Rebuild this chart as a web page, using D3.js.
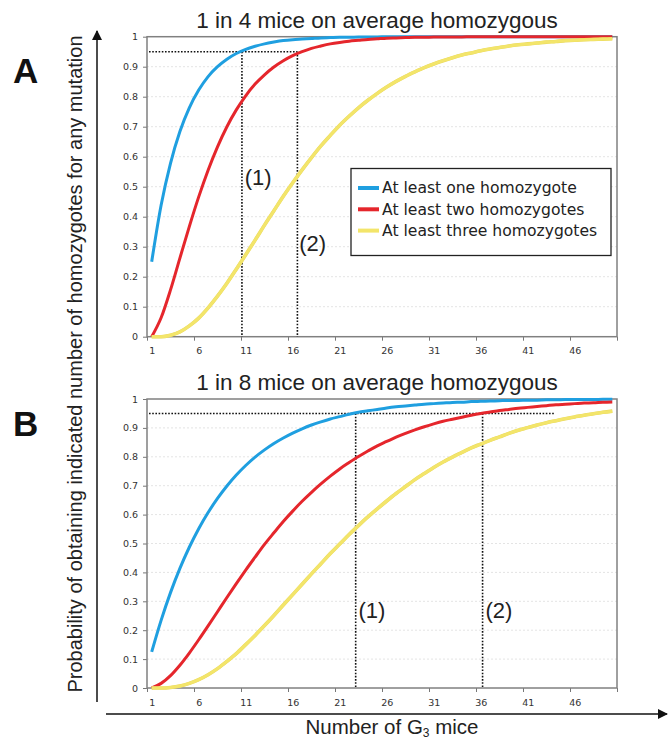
<!DOCTYPE html>
<html>
<head>
<meta charset="utf-8">
<script src="https://cdn.jsdelivr.net/npm/d3@7"></script>
<style>
  body { margin: 0; background: #fff; }
  svg { display: block; }
</style>
</head>
<body>
<script>
// ---- data ----
const mice = [1,2,3,4,5,6,7,8,9,10,11,12,13,14,15,16,17,18,19,20,21,22,23,24,25,
              26,27,28,29,30,31,32,33,34,35,36,37,38,39,40,41,42,43,44,45,46,47,48,49,50];

// A: 1 in 4 mice homozygous
const aOne = [0.25,0.438,0.578,0.684,0.763,0.822,0.867,0.900,0.925,0.944,0.958,0.968,0.976,0.982,0.987,
              0.990,0.992,0.994,0.996,0.997,0.998,0.998,0.999,0.999,0.999,1,1,1,1,1,1,1,1,1,1,1,1,1,1,1,
              1,1,1,1,1,1,1,1,1,1];
const aTwo = [0,0.063,0.156,0.262,0.367,0.466,0.555,0.633,0.700,0.756,0.803,0.842,0.873,0.899,0.920,
              0.937,0.950,0.961,0.969,0.976,0.981,0.985,0.988,0.991,0.993,0.995,0.996,0.997,0.998,0.998,
              0.999,0.999,0.999,0.999,1,1,1,1,1,1,1,1,1,1,1,1,1,1,1,1];
const aThree = [0,0,0.005,0.016,0.036,0.062,0.096,0.135,0.178,0.225,0.273,0.322,0.372,0.420,0.468,
                0.513,0.556,0.597,0.636,0.671,0.705,0.735,0.763,0.788,0.811,0.832,0.851,0.868,0.883,0.897,
                0.909,0.920,0.930,0.939,0.946,0.953,0.959,0.964,0.969,0.973,0.976,0.979,0.982,0.984,0.987,
                0.988,0.990,0.991,0.992,0.993];

// B: 1 in 8 mice homozygous
const bOne = [0.125,0.234,0.330,0.414,0.487,0.551,0.607,0.656,0.699,0.737,0.770,0.799,0.824,0.846,0.865,
              0.882,0.897,0.910,0.921,0.931,0.939,0.947,0.954,0.959,0.964,0.969,0.973,0.976,0.979,0.982,
              0.984,0.986,0.988,0.989,0.991,0.992,0.993,0.994,0.995,0.995,0.996,0.996,0.997,0.997,0.998,
              0.998,0.998,0.998,0.999,0.999];
const bTwo = [0,0.016,0.043,0.079,0.121,0.167,0.215,0.264,0.313,0.361,0.408,0.453,0.497,0.537,0.576,
              0.612,0.646,0.677,0.706,0.733,0.758,0.780,0.801,0.820,0.838,0.853,0.868,0.881,0.893,0.904,
              0.914,0.923,0.930,0.937,0.944,0.950,0.955,0.960,0.964,0.968,0.971,0.974,0.977,0.980,0.982,
              0.984,0.986,0.987,0.989,0.990];
const bThree = [0,0,0.002,0.007,0.016,0.029,0.046,0.067,0.092,0.119,0.150,0.182,0.216,0.251,0.287,
                0.323,0.359,0.395,0.430,0.465,0.498,0.531,0.562,0.592,0.620,0.647,0.673,0.697,0.721,0.742,
                0.763,0.782,0.799,0.815,0.831,0.844,0.857,0.869,0.881,0.892,0.901,0.910,0.918,0.925,0.932,
                0.938,0.944,0.949,0.954,0.958];

const seriesNames = ["At least one homozygote", "At least two homozygotes", "At least three homozygotes"];
const seriesColors = ["#1f9fe0", "#e5262c", "#f3e56a"];

const xTickLabels = [1,6,11,16,21,26,31,36,41,46];
const yTickLabels = [0,0.1,0.2,0.3,0.4,0.5,0.6,0.7,0.8,0.9,1];

// 95% guide lines and the (1)/(2) marks
const guideLevel = 0.95;
const aGuides = [10.6, 16.5];
const bGuides = [22.7, 36.2];
const bGuideEnd = 43.8;
const aMarks = [{t: "(1)", x: 10.9, y: 0.53}, {t: "(2)", x: 16.7, y: 0.31}];
const bMarks = [{t: "(1)", x: 23.0, y: 0.27}, {t: "(2)", x: 36.5, y: 0.27}];

// ---- drawing ----
const W = 669, H = 742;
const svg = d3.select("body").append("svg").attr("width", W).attr("height", H);

const plotLeft = 147, plotRight = 617;
const x = d3.scaleLinear().domain([0.5, 50.5]).range([plotLeft, plotRight]);

function drawPanel(cfg) {
    const y = d3.scaleLinear().domain([0, 1]).range([cfg.bottom, cfg.top]);
    const g = svg.append("g");

    // grid
    g.selectAll(".grid").data(yTickLabels.slice(1, -1)).join("line")
        .attr("x1", plotLeft).attr("x2", plotRight)
        .attr("y1", d => y(d)).attr("y2", d => y(d))
        .attr("stroke", "#e4e4e4").attr("stroke-width", 1)
        .attr("stroke-dasharray", "2,2");

    // y axis
    const yAxis = g.append("g").attr("transform", `translate(${plotLeft},0)`)
        .call(d3.axisLeft(y).tickValues(yTickLabels).tickSize(4).tickPadding(5)
            .tickFormat(d3.format("~g")));
    yAxis.select(".domain").remove();
    yAxis.selectAll("line").attr("stroke", "#777");
    yAxis.selectAll("text").attr("font-family", "DejaVu Sans").attr("font-size", 9.5).attr("fill", "#333");

    // x axis: tick marks at category edges, labels at category centres
    const edges = xTickLabels.map(d => d - 0.5).concat([50.5]);
    const xMarks = g.append("g").attr("transform", `translate(0,${cfg.bottom})`)
        .call(d3.axisBottom(x).tickValues(edges).tickSize(4).tickFormat(""));
    xMarks.select(".domain").remove();
    xMarks.selectAll("line").attr("stroke", "#777");

    const xLabels = g.append("g").attr("transform", `translate(0,${cfg.bottom})`)
        .call(d3.axisBottom(x).tickValues(xTickLabels).tickSize(0).tickPadding(11));
    xLabels.select(".domain").remove();
    xLabels.selectAll("text").attr("font-family", "DejaVu Sans").attr("font-size", 9.5).attr("fill", "#333");

    // frame
    g.append("rect")
        .attr("x", plotLeft).attr("y", cfg.top)
        .attr("width", plotRight - plotLeft).attr("height", cfg.bottom - cfg.top)
        .attr("fill", "none").attr("stroke", "#808080").attr("stroke-width", 1.5);

    // dotted guides
    const dots = {stroke: "#111", "stroke-width": 1.6, "stroke-dasharray": "1.6,1.6"};
    const hLine = g.append("line")
        .attr("x1", plotLeft + 2).attr("x2", x(cfg.guideEnd))
        .attr("y1", y(guideLevel)).attr("y2", y(guideLevel));
    Object.entries(dots).forEach(([k, v]) => hLine.attr(k, v));
    cfg.guides.forEach(gx => {
        const l = g.append("line")
            .attr("x1", x(gx)).attr("x2", x(gx))
            .attr("y1", y(guideLevel)).attr("y2", cfg.bottom);
        Object.entries(dots).forEach(([k, v]) => l.attr(k, v));
    });

    // curves
    const line = d3.line()
        .x((d, i) => x(mice[i]))
        .y(d => y(d))
        .curve(d3.curveMonotoneX);

    cfg.series.forEach((s, i) => {
        if (i === 2) {
            g.append("path").attr("d", line(s)).attr("fill", "none")
                .attr("stroke", "#e8d860").attr("stroke-width", 3.6);
        }
        g.append("path").attr("d", line(s)).attr("fill", "none")
            .attr("stroke", seriesColors[i]).attr("stroke-width", 3);
    });

    // (1) (2) marks
    g.selectAll(".mark").data(cfg.marks).join("text")
        .attr("x", d => x(d.x)).attr("y", d => y(d.y))
        .attr("dy", "0.35em")
        .attr("font-family", "Liberation Sans, Arial, sans-serif")
        .attr("font-size", 22).attr("fill", "#222")
        .text(d => d.t);

    // title
    g.append("text")
        .attr("x", 377).attr("y", cfg.top - 9)
        .attr("text-anchor", "middle")
        .attr("font-family", "Liberation Sans, Arial, sans-serif")
        .attr("font-size", 22.5).attr("fill", "#222")
        .text(cfg.title);

    // panel letter
    svg.append("text")
        .attr("x", 13).attr("y", cfg.letterY)
        .attr("font-family", "Liberation Sans, Arial, sans-serif")
        .attr("font-weight", "bold").attr("font-size", 35).attr("fill", "#111")
        .text(cfg.letter);

    return {g, y};
}

drawPanel({
    top: 36.7, bottom: 336.7, title: "1 in 4 mice on average homozygous",
    series: [aOne, aTwo, aThree], guides: aGuides, guideEnd: aGuides[1],
    marks: aMarks, letter: "A", letterY: 83
});

drawPanel({
    top: 399, bottom: 688, title: "1 in 8 mice on average homozygous",
    series: [bOne, bTwo, bThree], guides: bGuides, guideEnd: bGuideEnd,
    marks: bMarks, letter: "B", letterY: 436
});

// legend (panel A)
const legend = svg.append("g").attr("transform", "translate(351,168.5)");
legend.append("rect").attr("width", 260).attr("height", 87)
    .attr("fill", "#fff").attr("stroke", "#222").attr("stroke-width", 1.3);
seriesNames.forEach((name, i) => {
    const row = legend.append("g").attr("transform", `translate(7,${19.5 + i * 21.3})`);
    row.append("line").attr("x1", 0).attr("x2", 21)
        .attr("stroke", seriesColors[i]).attr("stroke-width", 4);
    row.append("text").attr("x", 24).attr("dy", "0.35em")
        .attr("font-family", "DejaVu Sans").attr("font-size", 15.6).attr("fill", "#222")
        .text(name);
});

// outer arrows and axis titles
const defs = svg.append("defs");
defs.append("marker").attr("id", "arrow")
    .attr("viewBox", "0 0 10 10").attr("refX", 9).attr("refY", 5)
    .attr("markerWidth", 10).attr("markerHeight", 10).attr("markerUnits", "userSpaceOnUse")
    .attr("orient", "auto")
    .append("path").attr("d", "M0,0 L10,5 L0,10 Z").attr("fill", "#111");

svg.append("line").attr("x1", 97).attr("x2", 97).attr("y1", 702).attr("y2", 31)
    .attr("stroke", "#111").attr("stroke-width", 1.5).attr("marker-end", "url(#arrow)");
svg.append("line").attr("x1", 106).attr("x2", 667).attr("y1", 714).attr("y2", 714)
    .attr("stroke", "#111").attr("stroke-width", 1.5).attr("marker-end", "url(#arrow)");

svg.append("text")
    .attr("transform", "translate(82,364) rotate(-90)")
    .attr("text-anchor", "middle")
    .attr("font-family", "Liberation Sans, Arial, sans-serif")
    .attr("font-size", 20).attr("fill", "#222")
    .text("Probability of obtaining indicated number of homozygotes for any mutation");

const xTitle = svg.append("text")
    .attr("x", 392).attr("y", 734)
    .attr("text-anchor", "middle")
    .attr("font-family", "Liberation Sans, Arial, sans-serif")
    .attr("font-size", 20.5).attr("fill", "#222");
xTitle.append("tspan").text("Number of G");
xTitle.append("tspan").attr("font-size", 12).attr("dy", 3).text("3");
xTitle.append("tspan").attr("dy", -3).text(" mice");
</script>
</body>
</html>
